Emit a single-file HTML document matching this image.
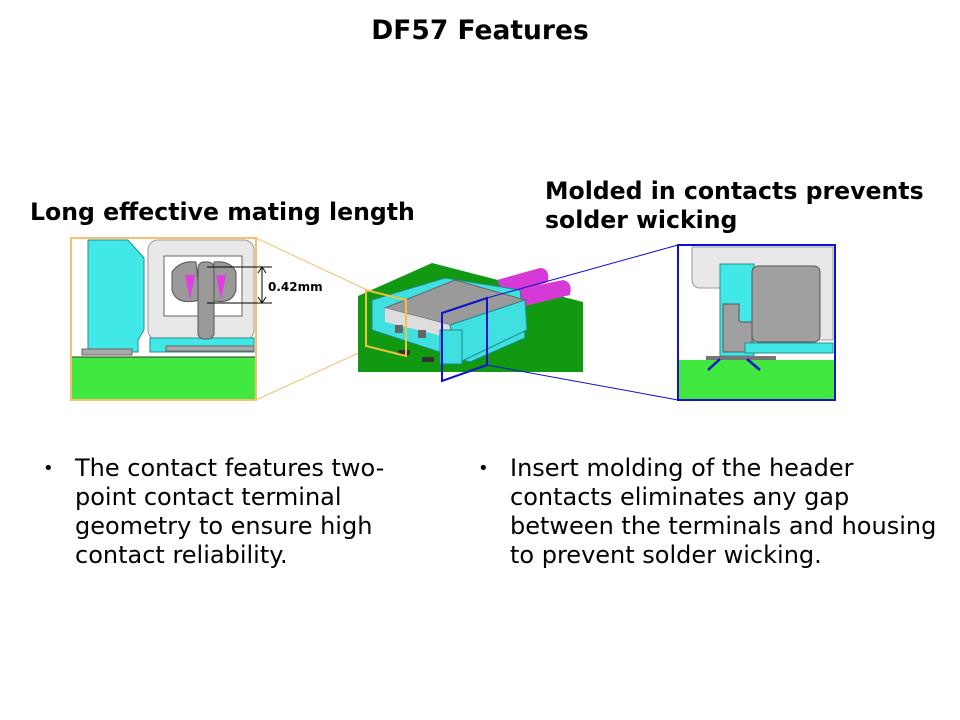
<!DOCTYPE html>
<html><head><meta charset="utf-8"><style>
body{margin:0;background:#fff;}
.w{position:relative;width:960px;height:720px;overflow:hidden;font-family:"DejaVu Sans","Liberation Sans",sans-serif;}
.t{position:absolute;left:0;width:960px;top:15px;text-align:center;font-weight:bold;font-size:26.5px;}
.h{position:absolute;font-weight:bold;font-size:23.6px;line-height:29px;white-space:nowrap;}
.b{position:absolute;font-size:24px;line-height:29px;white-space:nowrap;}
.b span{position:absolute;left:-32px;font-size:18px;}
</style></head><body><div class="w">
<div class="t">DF57 Features</div>
<div class="h" style="left:30px;top:198px">Long effective mating length</div>
<div class="h" style="left:545px;top:177px">Molded in contacts prevents<br>solder wicking</div>
<div class="b" style="left:75px;top:454px"><span>•</span>The contact features two-<br>point contact terminal<br>geometry to ensure high<br>contact reliability.</div>
<div class="b" style="left:510px;top:454px"><span>•</span>Insert molding of the header<br>contacts eliminates any gap<br>between the terminals and housing<br>to prevent solder wicking.</div>
<svg width="960" height="720" style="position:absolute;left:0;top:0">
<rect x="71" y="238" width="185" height="162" fill="#fff"/>
<rect x="148" y="240" width="106" height="100" rx="10" fill="#e8e8e8" stroke="#999"/>
<rect x="164" y="256" width="78" height="60" fill="#fff" stroke="#666"/>
<path d="M88 240 H128 L144 258 V330 L138 340 V352 H88Z" fill="#40e8e8" stroke="#2a8a8a"/>
<rect x="150" y="338" width="104" height="14" fill="#40e8e8" stroke="#2a8a8a"/>
<path d="M172 272 Q180 260 196 262 L200 300 Q176 306 172 290Z" fill="#999" stroke="#555"/>
<path d="M236 272 Q230 260 214 262 L210 300 Q232 306 236 290Z" fill="#999" stroke="#555"/>
<path d="M185 275 L195 275 L190 300Z M226 275 L216 275 L221 300Z" fill="#e040e0"/>
<rect x="198" y="262" width="16" height="77" rx="6" fill="#999" stroke="#555"/>
<rect x="82" y="349" width="50" height="6" fill="#aaa" stroke="#666"/>
<rect x="166" y="346" width="88" height="5" fill="#aaa" stroke="#666"/>
<rect x="71" y="357" width="185" height="43" fill="#40e840"/>
<line x1="71" y1="357" x2="256" y2="357" stroke="#333"/>
<rect x="71" y="238" width="185" height="162" fill="none" stroke="#f5c070" stroke-width="2"/>
<line x1="207" y1="267" x2="272" y2="267" stroke="#000"/>
<line x1="207" y1="303" x2="272" y2="303" stroke="#000"/>
<line x1="262" y1="268" x2="262" y2="302" stroke="#000"/>
<path d="M258 273 L262 267 L266 273 M258 297 L262 303 L266 297" fill="none" stroke="#000"/>
<text x="268" y="291" font-family="DejaVu Sans" font-weight="bold" font-size="12">0.42mm</text>
<line x1="256" y1="238" x2="365" y2="289" stroke="#f5c070"/>
<line x1="256" y1="400" x2="365" y2="350" stroke="#f5c070"/>
<polygon points="358,296 432,263 583,302 583,372 358,372" fill="#119911"/>
<path d="M497 280 L540 268 Q550 268 548 282 L505 296Z M515 290 L563 280 Q573 282 570 295 L525 306Z" fill="#d63ad6"/>
<polygon points="372,300 445,278 520,290 525,338 470,362 372,330" fill="#40e0e0" stroke="#288"/>
<polygon points="385,308 455,280 525,300 450,325" fill="#9a9a9a" stroke="#666"/>
<polygon points="385,308 450,325 450,338 385,322" fill="#ddd"/>
<polygon points="450,325 525,300 527,330 460,362" fill="#40e0e0" stroke="#288"/>
<rect x="440" y="330" width="22" height="34" fill="#40e0e0" stroke="#288"/>
<rect x="395" y="325" width="8" height="8" fill="#666"/><rect x="418" y="330" width="8" height="8" fill="#666"/>
<rect x="398" y="350" width="12" height="5" fill="#333"/><rect x="422" y="357" width="12" height="5" fill="#333"/>
<polygon points="366,290 406,300 406,356 366,346" fill="none" stroke="#f5c040" stroke-width="2"/>
<polygon points="442,313 487,298 487,365 442,381" fill="none" stroke="#1010d0" stroke-width="2"/>
<line x1="487" y1="298" x2="678" y2="245" stroke="#1010d0"/>
<line x1="487" y1="365" x2="678" y2="400" stroke="#1010d0"/>
<rect x="678" y="245" width="157" height="155" fill="#fff"/>
<path d="M692 247 H833 V340 H760 V288 H700 Q692 288 692 278Z" fill="#e8e8e8" stroke="#999"/>
<rect x="720" y="264" width="34" height="92" fill="#40e8e8" stroke="#2a8a8a"/>
<rect x="752" y="266" width="68" height="76" rx="6" fill="#a0a0a0" stroke="#555"/>
<path d="M723 304 H739 V320 Q739 322 742 322 H752 V352 H723Z" fill="#a0a0a0" stroke="#555"/>
<rect x="745" y="343" width="88" height="10" fill="#40e8e8" stroke="#2a8a8a"/>
<rect x="706" y="356" width="70" height="4" fill="#777"/>
<rect x="678" y="360" width="157" height="40" fill="#40e840"/>
<path d="M708 370 L720 359 M747 359 L760 370" stroke="#1010d0" stroke-width="2.5"/>
<rect x="678" y="245" width="157" height="155" fill="none" stroke="#1010d0" stroke-width="2"/>
</svg>
</div></body></html>
